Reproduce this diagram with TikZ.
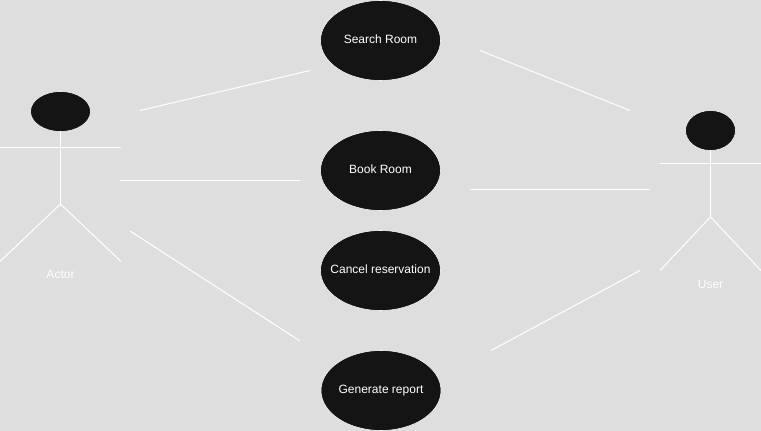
\documentclass[tikz,border=0pt]{standalone}
\usepackage{fontspec}
\setmainfont{Liberation Sans}
\definecolor{pagegray}{HTML}{DEDEDE}
\definecolor{inkblack}{HTML}{141414}
\tikzset{
    usecase/.style={draw=white, fill=inkblack, ellipse, line width=0.4pt, minimum width=90pt, minimum height=60pt, inner sep=0pt, text=white, text height=6.6pt, text depth=1.9pt, font=\fontsize{9}{11}\selectfont},
    head/.style={draw=white, fill=inkblack, ellipse, line width=0.4pt, inner sep=0pt},
    stick/.style={draw=white, line width=0.75pt},
    link/.style={draw=white, line width=0.75pt},
    rolename/.style={text=white, text height=6.6pt, text depth=0pt, font=\fontsize{9}{11}\selectfont}
}
\usetikzlibrary{shapes.geometric}

\begin{document}
\begin{tikzpicture}[x=0.75pt, y=-0.75pt]
    % Page background
    \fill[pagegray] (0,0) rectangle (761,431);
    \useasboundingbox (0,0) rectangle (761,431);

    % Use cases
    \node[usecase] (search) at (380.5,40.5) {Search Room};
    \node[usecase] (book) at (380.5,170.5) {Book Room};
    \node[usecase] (cancel) at (380.5,270.5) {\makebox[40pt]{Cancel reservation}};
    \node[usecase] (report) at (381,390.5) {Generate report};

    % Actor figure
    \node[head, minimum width=45pt, minimum height=30pt] (actorhead) at (60.5,111.5) {};
    \coordinate (actorhip) at (60.5,204);
    \coordinate (actorarml) at (0,147.5);
    \coordinate (actorarmr) at (121,147.5);
    \coordinate (actorlegl) at (0,261.5);
    \coordinate (actorlegr) at (121,261.5);
    \draw[stick] (actorhead) ++(0,20) -- (actorhip);
    \draw[stick] (actorarml) -- (actorarmr);
    \draw[stick] (actorlegl) -- (actorhip) -- (actorlegr);
    \node[rolename] (actorname) at (60.5,274) {Actor};

    % User figure
    \node[head, minimum width=37.5pt, minimum height=30pt] (userhead) at (710.5,130.5) {};
    \coordinate (userhip) at (710.5,217);
    \coordinate (userarml) at (660,163.5);
    \coordinate (userarmr) at (761,163.5);
    \coordinate (userlegl) at (660,270.5);
    \coordinate (userlegr) at (761,270.5);
    \draw[stick] (userhead) ++(0,20) -- (userhip);
    \draw[stick] (userarml) -- (userarmr);
    \draw[stick] (userlegl) -- (userhip) -- (userlegr);
    \node[rolename] (username) at (710.5,284) {User};

    % Free ends of the links
    \coordinate (as1) at (140,110.5);
    \coordinate (as2) at (310,70.5);
    \coordinate (ab1) at (120,180.5);
    \coordinate (ab2) at (300,180.5);
    \coordinate (ar1) at (130,231);
    \coordinate (ar2) at (300,341);
    \coordinate (us1) at (480,50.5);
    \coordinate (us2) at (630,110.5);
    \coordinate (ub1) at (470,189.5);
    \coordinate (ub2) at (650,189.5);
    \coordinate (ur1) at (491,350.5);
    \coordinate (ur2) at (640,270.5);

    % Links
    \draw[link] (as1) -- (as2);
    \draw[link] (ab1) -- (ab2);
    \draw[link] (ar1) -- (ar2);
    \draw[link] (us1) -- (us2);
    \draw[link] (ub1) -- (ub2);
    \draw[link] (ur1) -- (ur2);
\end{tikzpicture}
\end{document}
